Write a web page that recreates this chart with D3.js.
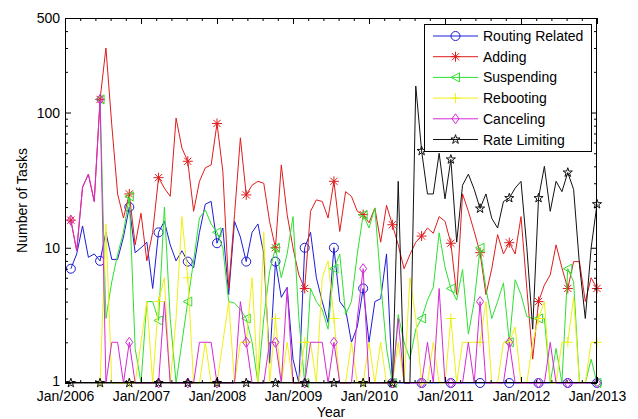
<!DOCTYPE html>
<html>
<head>
<meta charset="utf-8">
<script src="https://cdn.jsdelivr.net/npm/d3@7"></script>
<style>
body { margin: 0; background: #fff; }
text { font-family: "Liberation Sans", Arial, Helvetica, sans-serif; }
</style>
</head>
<body>
<svg id="chart" width="638" height="419"></svg>
<script>
// tick labels
var years = [2006, 2007, 2008, 2009, 2010, 2011, 2012, 2013];
var yearLabels = ["Jan/2006", "Jan/2007", "Jan/2008", "Jan/2009", "Jan/2010", "Jan/2011", "Jan/2012", "Jan/2013"];
var yTicks = [1, 10, 100, 500];

// tasks per four-week period (0 = nothing to plot on the log axis)
var routing = [7, 9, 14.5, 8.5, 9, 8, 13, 8.2, 8.2, 12,
	20, 9.2, 10, 11, 5, 13, 15.7, 10.5, 8, 9.5,
	7.9, 7.1, 13, 21, 22, 10.8, 14, 4.5, 15.7, 12,
	7.9, 13, 15, 9, 1.4, 7.9, 4.3, 5.1, 1.5, 1,
	10, 13, 6, 4, 2.8, 10, 4, 3.5, 2, 2.6,
	5, 2, 4, 4.2, 9, 1, 1, 1, 1, 1,
	1, 1, 1, 1, 1, 1, 1, 1, 1, 1,
	1, 1, 1, 1, 1, 1, 1, 1, 1, 1,
	1, 1, 1, 1, 1, 1, 1, 1, 1, 1, 1];
var adding = [16, 9.5, 28, 35, 22, 125, 300, 81, 25, 16.6,
	25, 10.5, 18, 8, 13, 33, 27.6, 24, 91, 54.6,
	43.6, 18.6, 31, 39, 41, 83, 36.7, 5, 17.6, 65,
	24.6, 29, 31, 30, 15.6, 10, 41, 17.6, 10, 6.3,
	5, 18.6, 22.6, 22, 16.6, 31, 13.2, 26, 24, 18.6,
	17.6, 15.3, 19.7, 11, 20.6, 14.8, 10.5, 7, 8.9, 11,
	12.2, 14, 12.8, 17, 15.7, 10.8, 4.5, 25, 18.6, 13.2,
	9.2, 4.5, 7, 12.5, 9, 10.9, 9, 17, 5, 1.5,
	4, 5.3, 6.3, 10.5, 7.1, 5, 7.9, 7.9, 4, 6, 5];
var suspending = [0, 0, 0, 0, 0, 125, 3, 5.6, 8.9, 13,
	24, 1.8, 1, 4, 4, 2.9, 20, 3, 1, 2,
	4, 8, 16.6, 19, 15, 13, 10, 4, 3.9, 3.5,
	3, 2, 1, 3, 6.7, 10, 6, 9, 17, 3,
	1, 5, 4, 3.5, 2.5, 7, 9, 3.2, 4, 9,
	17.5, 14, 19.7, 5.6, 1.8, 1, 3.2, 2, 1.5, 2.5,
	3, 4.1, 5.1, 12.9, 7.2, 5, 4.1, 6.9, 2.3, 4,
	10, 5, 3, 4, 5.5, 2, 5.8, 4.5, 3.1, 3,
	3, 3, 1, 1.8, 1, 7, 5.6, 1, 1, 1.5, 1];
var rebooting = [0, 0, 0, 0, 0, 1, 15, 1, 1, 1,
	1, 1, 2, 4, 1, 4, 6, 1, 3, 17,
	6, 1, 1, 2, 1, 1, 2, 4, 1, 2,
	2, 6, 1, 13, 1, 3, 1, 2, 1, 1,
	2, 2, 1, 6, 8, 3, 1, 1, 2, 1,
	1, 2, 1, 2, 1, 1, 2, 1, 6, 3,
	1, 1, 2, 1, 1, 3, 1, 2, 2, 2,
	2, 4, 1, 1, 2, 2, 2.6, 1, 1, 2,
	3, 4, 1, 1, 2, 2, 4.3, 1, 1, 2, 2];
var canceling = [16, 9.5, 28, 35, 22, 125, 1, 2, 2, 1,
	2, 1, 1, 1, 1, 1, 4, 1, 1, 1,
	1, 1, 2, 2, 2, 1, 1, 1, 1, 4,
	2, 1, 1, 1, 2, 2, 1, 5, 1, 1,
	1, 2, 2, 2, 1, 2, 1, 1, 1, 3,
	7, 1, 1, 1, 1, 1, 3, 1, 1, 1,
	1, 2, 1, 5, 1, 1, 1, 1, 2, 1,
	4, 1, 1, 1, 1, 2, 1, 1, 1, 1,
	1, 1, 2, 1, 1, 1, 1, 1, 1, 1, 1];
var rateLimiting = [1, 1, 1, 1, 1, 1, 1, 1, 1, 1,
	1, 1, 1, 1, 1, 1, 1, 1, 1, 1,
	1, 1, 1, 1, 1, 1, 1, 1, 1, 1,
	1, 1, 1, 1, 1, 1, 1, 1, 1, 1,
	1, 1, 1, 1, 1, 1, 1, 1, 1, 1,
	1, 1, 1, 1, 1, 1, 31, 1, 1, 157,
	52, 25, 25, 50, 23, 45, 11, 29, 35, 27,
	19.5, 25, 16.5, 14, 22, 23.3, 27.6, 31, 10, 2.5,
	23.3, 40, 18.6, 31, 26, 36, 27, 7.5, 3, 10, 21];

var seriesNames = ["Routing Related", "Adding", "Suspending", "Rebooting", "Canceling", "Rate Limiting"];
var seriesValues = [routing, adding, suspending, rebooting, canceling, rateLimiting];
var seriesColors = ["#1c1cd6", "#e01c1c", "#2ee02e", "#f0f014", "#d42ad4", "#111111"];
var seriesMarkers = ["circle", "asterisk", "triangle", "plus", "diamond", "star"];

var width = 638, height = 419;
var margin = {top: 18, right: 41, bottom: 36, left: 65};

var svg = d3.select("#chart");

// periods are four weeks long, 91 of them end at Jan/2013
var periods = d3.range(routing.length).map(function(i) { return 2006 + (i + 1) * 7 / routing.length; });

var x = d3.scaleLinear().domain([2006, 2013]).range([margin.left, width - margin.right]);
var y = d3.scaleLog().domain([1, 500]).range([height - margin.bottom, margin.top]);

var minorYears = d3.range(2006, 2013.001, 0.2).filter(function(v) { return Math.abs(v - Math.round(v)) > 0.01; });
var minorY = [2, 3, 4, 5, 6, 7, 8, 9, 20, 30, 40, 50, 60, 70, 80, 90, 200, 300, 400];

/*
Marker shapes, centred on 0,0
*/
function markerPath(type) {
	if (type === "circle") return "M4.5,0A4.5,4.5 0 1,1 -4.5,0A4.5,4.5 0 1,1 4.5,0Z";
	if (type === "asterisk") return "M-5,0H5M0,-5V5M-3.6,-3.6L3.6,3.6M-3.6,3.6L3.6,-3.6";
	if (type === "triangle") return "M-4.5,0L4,-4.5L4,4.5Z";
	if (type === "plus") return "M-5,0H5M0,-5V5";
	if (type === "diamond") return "M0,-5L3.5,0L0,5L-3.5,0Z";
	return d3.symbol(d3.symbolStar, 26)();
}

// plot background
svg.append("rect").attr("x", margin.left).attr("y", margin.top)
	.attr("width", width - margin.left - margin.right).attr("height", height - margin.top - margin.bottom)
	.attr("fill", "#fff").attr("stroke", "none");

// series
var plot = svg.append("g");
seriesValues.forEach(function(values, s) {
	var line = d3.line()
		.defined(function(d) { return d > 0; })
		.x(function(d, i) { return x(periods[i]); })
		.y(function(d) { return y(d); });
	plot.append("path").attr("d", line(values)).attr("fill", "none")
		.attr("stroke", seriesColors[s]).attr("stroke-width", 1).attr("stroke-linejoin", "round");
	var marks = values.map(function(v, i) { return {v: v, i: i}; })
		.filter(function(d) { return d.i % 5 === 0 && d.v > 0; });
	plot.selectAll(".m" + s).data(marks).enter().append("path")
		.attr("class", "m" + s)
		.attr("d", markerPath(seriesMarkers[s]))
		.attr("transform", function(d) { return "translate(" + x(periods[d.i]) + "," + y(d.v) + ")"; })
		.attr("fill", "none").attr("stroke", seriesColors[s]).attr("stroke-width", 1);
});

// axes
function styleAxis(g) {
	g.select(".domain").remove();
	g.selectAll("line").attr("stroke", "#000");
	g.selectAll("text").attr("fill", "#000").style("font-size", "14px")
		.style("font-family", "'Liberation Sans', Arial, Helvetica, sans-serif");
}

svg.append("g").attr("transform", "translate(0," + (height - margin.bottom) + ")")
	.call(d3.axisBottom(x).tickValues(years).tickSize(-6).tickPadding(8.5)
		.tickFormat(function(d, i) { return yearLabels[i]; }))
	.call(styleAxis);
svg.append("g").attr("transform", "translate(0," + (height - margin.bottom) + ")")
	.call(d3.axisBottom(x).tickValues(minorYears).tickSize(-3).tickFormat(""))
	.call(styleAxis);
svg.append("g").attr("transform", "translate(0," + margin.top + ")")
	.call(d3.axisTop(x).tickValues(years).tickSize(-6).tickFormat(""))
	.call(styleAxis);
svg.append("g").attr("transform", "translate(0," + margin.top + ")")
	.call(d3.axisTop(x).tickValues(minorYears).tickSize(-3).tickFormat(""))
	.call(styleAxis);

svg.append("g").attr("transform", "translate(" + margin.left + ",0)")
	.call(d3.axisLeft(y).tickValues(yTicks).tickSize(-6).tickPadding(5).tickFormat(d3.format("d")))
	.call(styleAxis)
	.selectAll("text").attr("dy", function(d) { return d === 1 ? "0.17em" : "0.32em"; });
svg.append("g").attr("transform", "translate(" + margin.left + ",0)")
	.call(d3.axisLeft(y).tickValues(minorY).tickSize(-3).tickFormat(""))
	.call(styleAxis);
svg.append("g").attr("transform", "translate(" + (width - margin.right) + ",0)")
	.call(d3.axisRight(y).tickValues(yTicks).tickSize(-6).tickFormat(""))
	.call(styleAxis);
svg.append("g").attr("transform", "translate(" + (width - margin.right) + ",0)")
	.call(d3.axisRight(y).tickValues(minorY).tickSize(-3).tickFormat(""))
	.call(styleAxis);

svg.append("rect").attr("x", margin.left + 0.5).attr("y", margin.top + 0.5)
	.attr("width", width - margin.left - margin.right - 1).attr("height", height - margin.top - margin.bottom - 1)
	.attr("fill", "none").attr("stroke", "#000").attr("stroke-width", 1);

// axis titles
svg.append("text").attr("x", (margin.left + width - margin.right) / 2).attr("y", 417)
	.attr("text-anchor", "middle").style("font-size", "14px").text("Year");
svg.append("text").attr("transform", "translate(27," + ((margin.top + height - margin.bottom) / 2) + ") rotate(-90)")
	.attr("text-anchor", "middle").style("font-size", "14px").text("Number of Tasks");

// legend
var legend = svg.append("g").attr("transform", "translate(424,24)");
legend.append("rect").attr("x", 0.5).attr("y", 0.5).attr("width", 167).attr("height", 127)
	.attr("fill", "#fff").attr("stroke", "#000").attr("stroke-width", 1);
seriesNames.forEach(function(name, s) {
	var ly = 12 + s * 20.7;
	legend.append("line").attr("x1", 9).attr("x2", 54).attr("y1", ly).attr("y2", ly)
		.attr("stroke", seriesColors[s]).attr("stroke-width", 1);
	legend.append("path").attr("d", markerPath(seriesMarkers[s]))
		.attr("transform", "translate(31.5," + ly + ")")
		.attr("fill", "none").attr("stroke", seriesColors[s]).attr("stroke-width", 1);
	legend.append("text").attr("x", 59).attr("y", ly + 5).style("font-size", "14px").text(name);
});
</script>
</body>
</html>
